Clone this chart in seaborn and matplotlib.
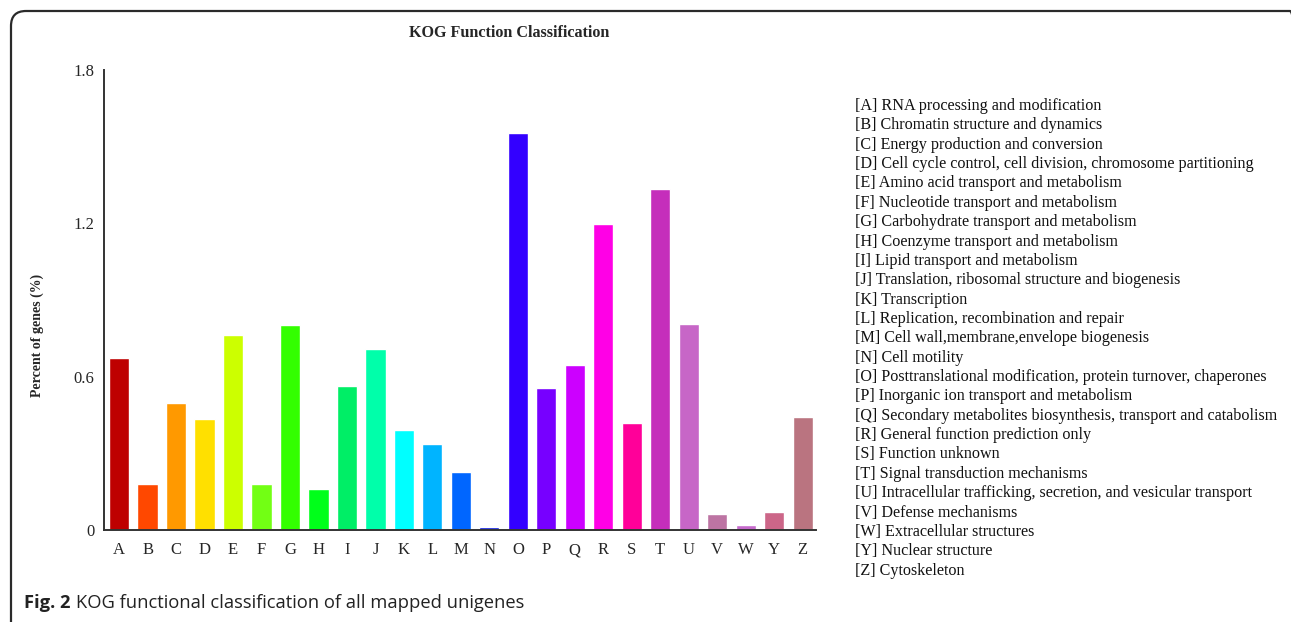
import matplotlib
matplotlib.use("Agg")
import matplotlib.pyplot as plt
import seaborn as sns
import pandas as pd
from matplotlib.patches import FancyBboxPatch

# KOG classes (no X in the figure)
codes = list("ABCDEFGHIJKLMNOPQRSTUVWYZ")
percents = [0.674, 0.179, 0.498, 0.435, 0.763, 0.181, 0.803, 0.160, 0.562, 0.707,
            0.392, 0.335, 0.228, 0.012, 1.554, 0.557, 0.646, 1.198, 0.419, 1.335,
            0.805, 0.064, 0.018, 0.072, 0.443]
colores = ["#BE0000", "#FF4800", "#FF9900", "#FFE000", "#CCFF00", "#72FF14", "#33FF00",
           "#00FF1A", "#00EE66", "#00FFAA", "#00FFFF", "#00B4FF", "#0066FF", "#0A1ADD",
           "#3300FF", "#7700FF", "#CC00FF", "#FF00E6", "#FF0099", "#C52EBB", "#C766C7",
           "#BD74A3", "#C56ACB", "#CC6688", "#BA7480"]
descricoes = [
    "RNA processing and modification",
    "Chromatin structure and dynamics",
    "Energy production and conversion",
    "Cell cycle control, cell division, chromosome partitioning",
    "Amino acid transport and metabolism",
    "Nucleotide transport and metabolism",
    "Carbohydrate transport and metabolism",
    "Coenzyme transport and metabolism",
    "Lipid transport and metabolism",
    "Translation, ribosomal structure and biogenesis",
    "Transcription",
    "Replication, recombination and repair",
    "Cell wall,membrane,envelope biogenesis",
    "Cell motility",
    "Posttranslational modification, protein turnover, chaperones",
    "Inorganic ion transport and metabolism",
    "Secondary metabolites biosynthesis, transport and catabolism",
    "General function prediction only",
    "Function unknown",
    "Signal transduction mechanisms",
    "Intracellular trafficking, secretion, and vesicular transport",
    "Defense mechanisms",
    "Extracellular structures",
    "Nuclear structure",
    "Cytoskeleton",
]
y_ticks = [0, 0.6, 1.2, 1.8]
y_tick_labels = ["0", "0.6", "1.2", "1.8"]

df = pd.DataFrame({"code": codes, "pct": percents})

sns.set_style("white")
plt.rcParams["font.family"] = ["Liberation Serif", "DejaVu Serif"]

W, H = 1291, 622
fig = plt.figure(figsize=(W / 100, H / 100), dpi=100)
ax = fig.add_axes([104 / W, 1 - 530 / H, (816 - 104) / W, (530 - 70) / H])

sns.barplot(data=df, x="code", y="pct", hue="code", palette=colores, legend=False,
            width=0.71, saturation=1, ax=ax)

ax.set_xlim(-0.53, 24.47)
ax.set_ylim(0, 1.8)
ax.set_yticks(y_ticks)
ax.set_yticklabels(y_tick_labels, fontsize=12)
ax.set_xlabel("")
ax.set_ylabel("")
for lab in ax.get_xticklabels():
    lab.set_fontsize(12)
ax.tick_params(axis="x", length=0, pad=9)
ax.tick_params(axis="y", length=5, width=1.2, color="#333333", pad=2, direction="out")
sns.despine(ax=ax)
for s in ["left", "bottom"]:
    ax.spines[s].set_color("#333333")
    ax.spines[s].set_linewidth(1.4)

# titulo e rotulo do eixo
fig.text(509 / W, 1 - 33 / H, "KOG Function Classification", ha="center", va="center",
         fontsize=11.6, fontweight="bold")
fig.text(37 / W, 1 - 335 / H, "Percent of genes (%)", ha="center", va="center",
         rotation=90, fontsize=10, fontweight="bold")

# legenda em texto
y0, dy = 106, 19.36
for i, (c, d) in enumerate(zip(codes, descricoes)):
    fig.text(855 / W, 1 - (y0 + i * dy) / H, f"[{c}] {d}", ha="left", va="center",
             fontsize=11.6, color="#111111")

# moldura arredondada
box = FancyBboxPatch((0.11, -0.5), 12.94, 6.11 + 0.5,
                     boxstyle="round,pad=0,rounding_size=0.15",
                     transform=fig.dpi_scale_trans, fill=False,
                     edgecolor="#2a2a2a", linewidth=1.6)
fig.patches.append(box)

# legenda da figura
t1 = fig.text(24 / W, 1 - 603 / H, "Fig. 2", ha="left", va="center", fontsize=13.2,
              fontweight="bold", family=["Open Sans", "DejaVu Sans"], color="#222222")
fig.canvas.draw()
bb = t1.get_window_extent()
fig.text((bb.x1 + 5) / W, 1 - 603 / H, "KOG functional classification of all mapped unigenes",
         ha="left", va="center", fontsize=13.2, family=["Open Sans", "DejaVu Sans"],
         color="#222222")

fig.savefig("out.png", dpi=100)
